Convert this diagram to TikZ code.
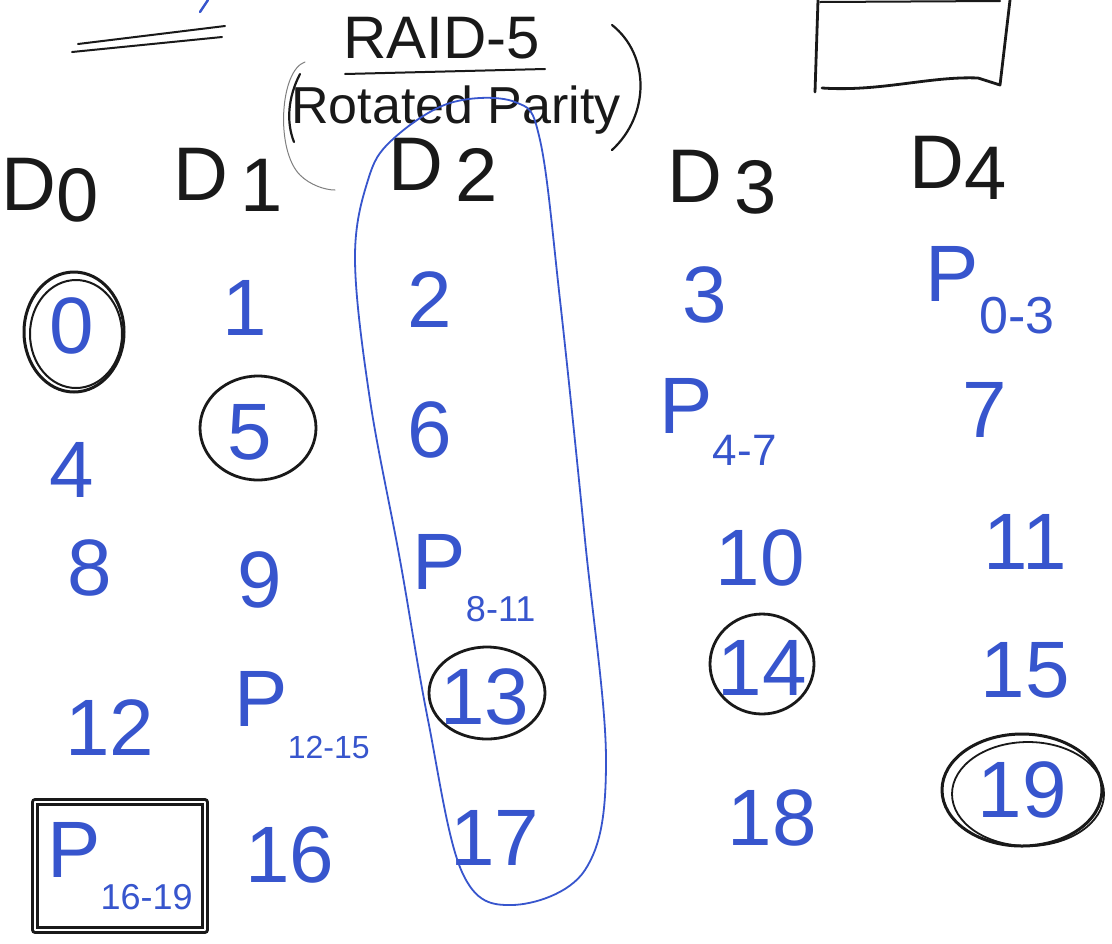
\documentclass[tikz,border=0pt]{standalone}
\usepackage{fontspec}
\setmainfont{Liberation Sans}
\begin{document}
\begin{tikzpicture}[x=0.5pt,y=-0.5pt,line cap=round,line join=round]
\definecolor{handblue}{RGB}{55,85,205}
\definecolor{handink}{RGB}{25,25,25}
\tikzset{
  num/.style={text=handblue,inner sep=0pt,font=\fontsize{40}{40}\selectfont},
  head/.style={text=handink,inner sep=0pt,font=\fontsize{38}{38}\selectfont},
  title/.style={text=handink,inner sep=0pt},
  ink/.style={draw=handink,line width=1.4pt},
  bluepen/.style={draw=handblue,line width=0.9pt},
}
\newcommand{\psub}[2]{P\raisebox{-0.4em}{\fontsize{#2}{#2}\selectfont #1}}
\useasboundingbox (0,0) rectangle (1112,943);
\fill[white] (0,0) rectangle (1112,943);

% top-left double stroke
\coordinate (tl1) at (78,44); \coordinate (tl2) at (225,26);
\coordinate (tl3) at (72,52); \coordinate (tl4) at (222,37);
\draw[ink,line width=1pt] (tl1) -- (tl2);
\draw[ink,line width=1pt] (tl3) -- (tl4);
\coordinate (bs1) at (200,12); \coordinate (bs2) at (208,0);
\draw[bluepen,line width=1.2pt] (bs1) -- (bs2);

% top-right box
\coordinate (br1) at (818,0); \coordinate (br2) at (815,92);
\coordinate (br3) at (1010,0); \coordinate (br4) at (1000,85);
\draw[ink] (br1) -- (br2);
\draw[ink] (br3) -- (br4) -- (978,78) .. controls (930,76) and (880,92) .. (822,88);
\draw[ink,line width=1pt] (820,2) -- (1000,1);

% title
\node[title,font=\fontsize{30}{30}\selectfont] (t1) at (442,38) {RAID-5};
\coordinate (ul1) at (345,74); \coordinate (ul2) at (545,69);
\draw[ink,line width=1pt] (ul1) -- (ul2);
\node[title,font=\fontsize{26}{26}\selectfont] (t2) at (456,110) {Rotated Parity};
\draw[ink,line width=1.1pt] (300,74) .. controls (288,97) and (286,122) .. (294,142);
\draw[draw=gray,line width=0.5pt] (305,62) .. controls (280,70) and (275,150) .. (300,175) .. controls (310,185) and (325,190) .. (335,190);
\draw[ink,line width=1.1pt] (612,25) .. controls (650,55) and (650,115) .. (612,150);

% disk headers
\node[head] (d0) at (50,190) {D\raisebox{-0.15em}{0}};
\node[head] (d1) at (228,180) {D\,\raisebox{-0.15em}{1}};
\node[head] (d2) at (443,170) {D\,\raisebox{-0.15em}{2}};
\node[head] (d3) at (722,182) {D\,\raisebox{-0.15em}{3}};
\node[head] (d4) at (958,168) {D\raisebox{-0.15em}{4}};

% data rows
\node[num] (n0) at (72,326) {0};
\node[num] (n1) at (245,308) {1};
\node[num] (n2) at (430,300) {2};
\node[num] (n3) at (705,295) {3};
\node[num] (p03) at (990,290) {\psub{0-3}{26}};

\node[num] (n4) at (72,470) {4};
\node[num] (n5) at (250,432) {5};
\node[num] (n6) at (430,430) {6};
\node[num] (p47) at (718,422) {\psub{4-7}{22}};

\node[num] (n7) at (985,410) {7};

\node[num] (n8) at (90,568) {8};
\node[num] (n9) at (260,580) {9};
\node[num] (p811) at (474,578) {\psub{8-11}{18}};
\node[num] (n10) at (760,558) {10};
\node[num] (n11) at (1025,542) {11};

\node[num] (n12) at (110,728) {12};
\node[num] (p1215) at (302,715) {\psub{12-15}{16}};
\node[num] (n13) at (485,697) {13};
\node[num] (n14) at (762,668) {14};
\node[num] (n15) at (1025,670) {15};

\node[num,draw=handink,line width=1.4pt,double=white,double distance=1.2pt,minimum width=85pt,minimum height=64pt] (p1619) at (120,866) {\psub{16-19}{18}};
\node[num] (n16) at (290,855) {16};
\node[num] (n17) at (495,838) {17};
\node[num] (n18) at (772,818) {18};
\node[num] (n19) at (1022,790) {19};

% circles
\draw[ink,line width=1.5pt] ([shift={(2,6)}]n0.center) ellipse [x radius=25pt, y radius=30pt];
\draw[ink,line width=1pt] ([shift={(4,8)}]n0.center) ellipse [x radius=23pt, y radius=27pt];
\draw[ink] ([shift={(8,-4)}]n5.center) ellipse [x radius=29pt, y radius=26pt];
\draw[ink] ([shift={(2,-4)}]n13.center) ellipse [x radius=29pt, y radius=23pt];
\draw[ink] ([shift={(0,-4)}]n14.center) ellipse [x radius=26pt, y radius=25pt];
\draw[ink,line width=1.5pt] (n19) ellipse [x radius=40pt, y radius=28pt];
\draw[ink,line width=0.9pt] ([shift={(6,4)}]n19.center) ellipse [x radius=38pt, y radius=26pt];

% blue loop around the D2 column
\draw[bluepen] plot[smooth cycle,tension=0.6] coordinates {
  (392,140) (450,103) (515,102) (540,140) (560,300) (585,540) (606,760)
  (585,870) (512,905) (462,872) (428,720) (400,560) (370,400) (355,260) (368,180)};

\end{tikzpicture}
\end{document}
